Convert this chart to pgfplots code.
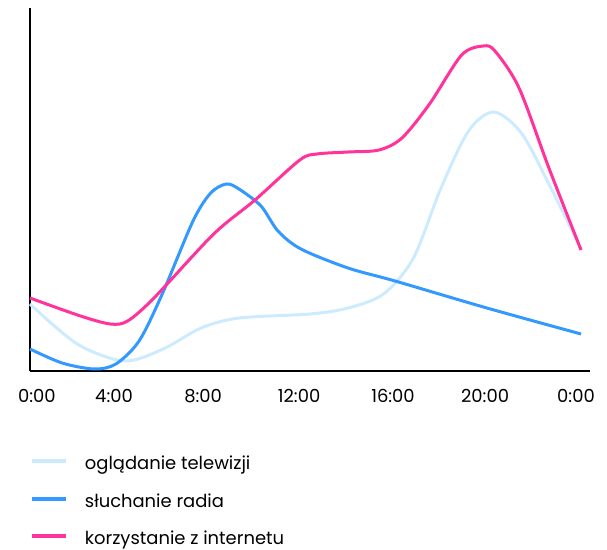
\documentclass[border=0pt]{standalone}
\usepackage{pgfplots}
\pgfplotsset{compat=1.18}
\usepackage{fontspec}
\setmainfont{Poppins}
\definecolor{tvc}{HTML}{CCEBFF}
\definecolor{radioc}{HTML}{3399FF}
\definecolor{netc}{HTML}{FF3399}
\begin{document}
\begin{tikzpicture}[x=0.75bp,y=0.75bp]
\path[use as bounding box] (-30,-179) rectangle (577,371);
\begin{axis}[
  at={(0,0)}, anchor=south west,
  scale only axis, width=420bp, height=272.25bp,
  xmin=0, xmax=24.39, ymin=0, ymax=363,
  axis lines=left,
  axis line style={line width=1.5bp, -},
  ytick=\empty,
  xtick={0.30,3.66,7.54,11.72,15.81,19.82,23.78},
  xticklabels={0:00,4:00,8:00,12:00,16:00,20:00,0:00},
  major tick length=0pt,
  xticklabel style={font=\fontsize{13.5}{16}\selectfont, yshift=-10bp},
  clip=false,
  legend cell align=left,
  legend style={at={(axis description cs:0,0)}, anchor=north west,
    xshift=-3bp, yshift=-62bp, draw=none, fill=none,
    font=\fontsize{13.5}{16}\selectfont,
    row sep=14bp,
    nodes={inner sep=0pt, text height=10bp, text depth=4bp},
    /tikz/every odd column/.append style={column sep=13bp}},
  legend image code/.code={\draw[#1, line width=3bp] (0bp,3.5bp) -- (25bp,3.5bp);},
]
\addplot[tvc, line width=2.25bp, smooth] coordinates {
(0,67) (2.06,27) (4.1,10) (5.8,22) (7.45,43) (9.1,53) (12.2,57) (13.85,63) (15.4,77) (16.7,113) (17.9,183) (19.1,240) (20.2,259) (21.4,238) (22.6,187) (24,122)};
\addlegendentry{oglądanie telewizji}
\addplot[radioc, line width=2.25bp, smooth] coordinates {
(0,22) (1.4,8) (2.8,2) (3.74,7) (4.75,30) (5.76,77) (7.1,150) (7.87,178) (8.55,187) (9.1,182) (10.06,165) (10.8,140) (11.8,122) (13.85,103) (15.9,90) (19.9,63) (24,37)};
\addlegendentry{słuchanie radia}
\addplot[netc, line width=2.25bp, smooth] coordinates {
(0,73) (2.2,55) (3.5,47) (4.25,50) (5.4,73) (8.0,137) (9.8,171) (11.75,211) (12.5,217) (13.85,219) (15.2,221) (16.2,233) (17.4,267) (18.8,316) (19.75,325) (20.25,320) (21.3,283) (22.6,203) (24,121)};
\addlegendentry{korzystanie z internetu}
\end{axis}
\end{tikzpicture}
\end{document}
